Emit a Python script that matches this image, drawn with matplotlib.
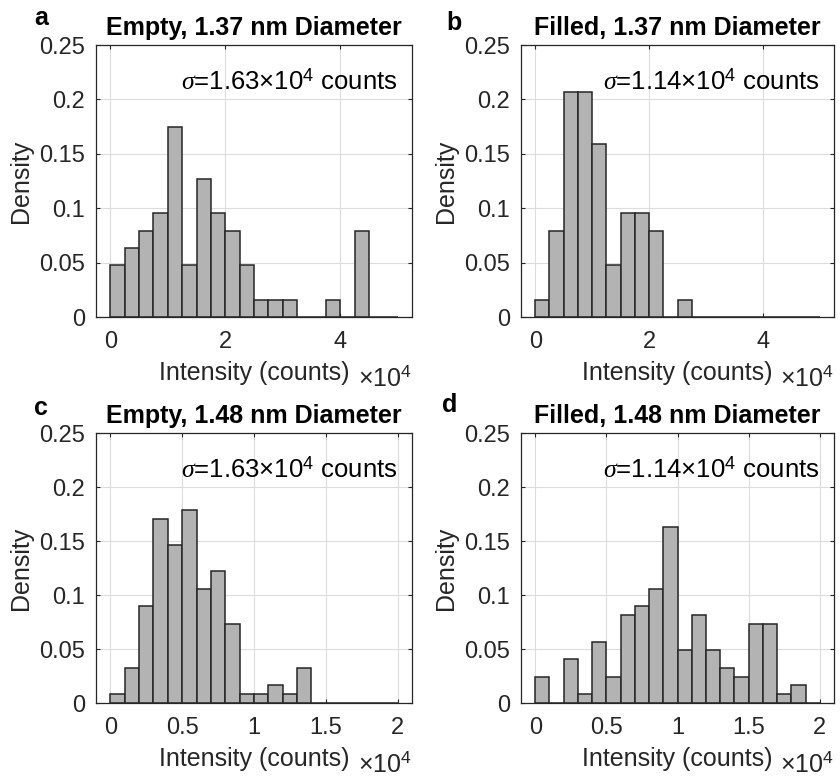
import numpy as np
import matplotlib
matplotlib.use('Agg')
from matplotlib import pyplot as plt

plt.rcParams['font.family'] = ['Liberation Sans', 'DejaVu Sans']
plt.rcParams['mathtext.fontset'] = 'custom'
plt.rcParams['mathtext.rm'] = 'Liberation Sans'
plt.rcParams['mathtext.it'] = 'Liberation Serif:italic'

# histogram counts per bin (intensity in units of 1e4 counts)
counts_a = [3, 4, 5, 6, 11, 3, 8, 6, 5, 3, 1, 1, 1, 0, 0, 1, 0, 5, 0, 0]
counts_b = [1, 5, 13, 13, 10, 3, 6, 6, 5, 0, 1, 0, 0, 0, 0, 0, 0, 0, 0, 0]
counts_c = [1, 4, 11, 21, 18, 22, 13, 15, 9, 1, 1, 2, 1, 4, 0, 0, 0, 0, 0, 0]
counts_d = [3, 0, 5, 1, 7, 3, 10, 11, 13, 20, 6, 10, 6, 4, 3, 9, 9, 1, 2, 0]

edges_137 = np.linspace(0, 5, 21)
edges_148 = np.linspace(0, 2, 21)

titles = ['Empty, 1.37 nm Diameter', 'Filled, 1.37 nm Diameter',
          'Empty, 1.48 nm Diameter', 'Filled, 1.48 nm Diameter']
sigmas = ['1.63', '1.14', '1.63', '1.14']
letters = ['a', 'b', 'c', 'd']

W, H = 840, 776
fig = plt.figure(figsize=(W / 100, H / 100), dpi=100)

# axes boxes in pixels: left, top, right, bottom
boxes = [(96, 45, 412, 317), (521, 45, 834, 317),
         (96, 433, 412, 703), (521, 433, 834, 703)]
letter_pos = [(34, 25), (446, 30), (34, 415), (442, 412)]

data = [(counts_a, edges_137), (counts_b, edges_137),
        (counts_c, edges_148), (counts_d, edges_148)]

dark = '#262626'
for i in range(4):
    l, t, r, b = boxes[i]
    ax = fig.add_axes([l / W, 1 - b / H, (r - l) / W, (b - t) / H])
    cnt, edges = data[i]
    cnt = np.array(cnt, dtype=float)
    dens = cnt / cnt.sum()
    ax.bar(edges[:-1], dens, width=np.diff(edges), align='edge',
           color='#b3b3b3', edgecolor=dark, linewidth=1.1, zorder=2)
    if i < 2:
        ax.set_xlim(-0.25, 5.25)
        ax.set_xticks([0, 2, 4])
        ax.set_xticklabels(['0', '2', '4'])
    else:
        ax.set_xlim(-0.1, 2.1)
        ax.set_xticks([0, 0.5, 1, 1.5, 2])
        ax.set_xticklabels(['0', '0.5', '1', '1.5', '2'])
    ax.set_ylim(0, 0.25)
    ax.set_yticks([0, 0.05, 0.1, 0.15, 0.2, 0.25])
    ax.set_yticklabels(['0', '0.05', '0.1', '0.15', '0.2', '0.25'])
    ax.set_axisbelow(True)
    ax.grid(True, color='#dcdcdc', linewidth=0.8)
    ax.tick_params(direction='in', top=True, right=True, length=3,
                   width=0.8, colors=dark, labelsize=17)
    ax.tick_params(axis='x', pad=10)
    ax.tick_params(axis='y', pad=8)
    for s in ax.spines.values():
        s.set_color(dark)
        s.set_linewidth(0.9)
    ax.set_xlabel('Intensity (counts)', fontsize=18, color=dark, labelpad=6)
    ax.set_ylabel('Density', fontsize=18, color=dark, labelpad=4)
    ax.set_title(titles[i], fontsize=18, fontweight='bold', pad=7)
    ax.text(1.0, -69 / (b - t), r'$\times10^{4}$', transform=ax.transAxes,
            ha='right', va='baseline', fontsize=18, color=dark)
    ax.text(0.955, 0.865, r'$\sigma$=' + sigmas[i] + r'×10$^{4}$ counts',
            transform=ax.transAxes, ha='right', va='center', fontsize=18.5,
            color='black')
    fig.text(letter_pos[i][0] / W, 1 - letter_pos[i][1] / H, letters[i],
             fontsize=18, fontweight='bold', ha='left', va='baseline')

fig.savefig('out.png', dpi=100)
